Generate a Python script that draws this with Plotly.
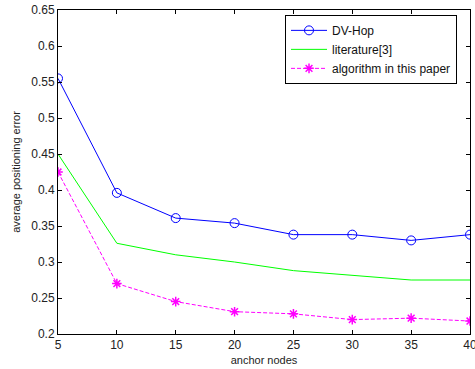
import plotly.graph_objects as go

anchor_nodes = [5, 10, 15, 20, 25, 30, 35, 40]
dv_hop = [0.555, 0.396, 0.361, 0.354, 0.338, 0.338, 0.330, 0.338]
literature3 = [0.450, 0.326, 0.310, 0.300, 0.288, 0.281, 0.275, 0.275]
algorithm = [0.425, 0.270, 0.245, 0.231, 0.228, 0.220, 0.222, 0.218]
y_ticks = [0.2, 0.25, 0.3, 0.35, 0.4, 0.45, 0.5, 0.55, 0.6, 0.65]
y_tick_labels = ["0.2", "0.25", "0.3", "0.35", "0.4", "0.45", "0.5", "0.55", "0.6", "0.65"]

FONT = "Liberation Sans, Arial"

fig = go.Figure()
fig.add_trace(go.Scatter(x=anchor_nodes, y=dv_hop, name="DV-Hop", mode="lines+markers",
                         line=dict(color="#0000ff", width=1),
                         marker=dict(symbol="circle-open", size=9, color="#0000ff", line=dict(width=1))))
fig.add_trace(go.Scatter(x=anchor_nodes, y=literature3, name="literature[3]", mode="lines",
                         line=dict(color="#00ff00", width=1)))
fig.add_trace(go.Scatter(x=anchor_nodes, y=algorithm, name="algorithm in this paper", mode="lines+markers",
                         line=dict(color="#ff00ff", width=1, dash="4px,2px"),
                         marker=dict(symbol="asterisk-open", size=8, color="#ff00ff", line=dict(width=1.5, color="#ff00ff"))))

axis_common = dict(showgrid=False, zeroline=False, ticks="inside", ticklen=4, tickcolor="black",
                   showline=True, linecolor="black", linewidth=1, mirror="ticks",
                   ticklabeloverflow="allow",
                   tickfont=dict(family=FONT, size=12, color="#222"))

fig.update_xaxes(range=[5, 40], tickvals=anchor_nodes, title=dict(text="anchor nodes", standoff=4,
                 font=dict(family=FONT, size=11, color="#222")), **axis_common)
fig.update_yaxes(range=[0.2, 0.65], tickvals=y_ticks, ticktext=y_tick_labels,
                 title=dict(text="average positioning error", standoff=8,
                            font=dict(family=FONT, size=11, color="#222")), **axis_common)

fig.update_layout(width=475, height=369, margin=dict(l=58, r=5, t=10, b=35, autoexpand=False),
                  plot_bgcolor="white", paper_bgcolor="white",
                  legend=dict(x=0.551, y=0.985, xanchor="left", yanchor="top",
                              bordercolor="black", borderwidth=1, bgcolor="white",
                              font=dict(family=FONT, size=12, color="#111"),
                              tracegroupgap=0, itemwidth=36),
                  showlegend=True)

fig.write_html("out.html", config={"displayModeBar": False},
               post_script="document.body.style.margin='0';")
